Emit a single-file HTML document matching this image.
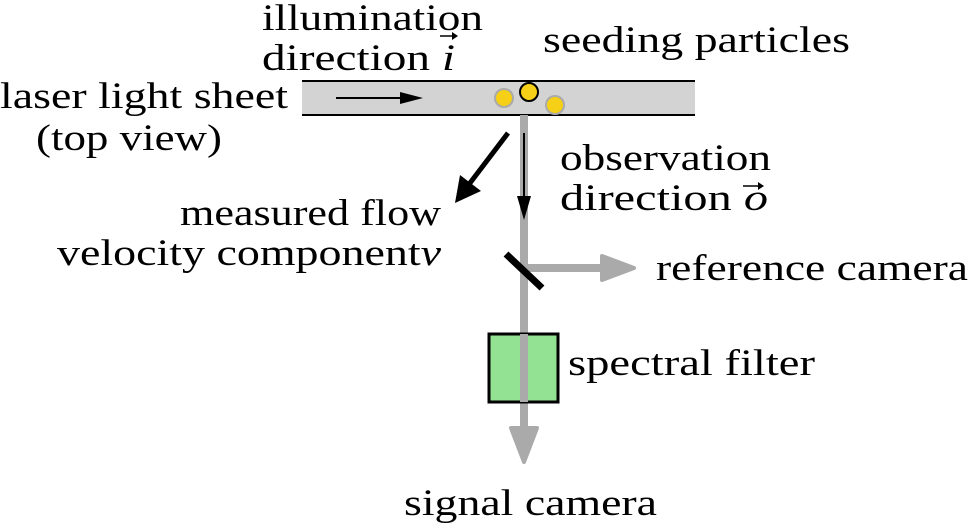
<!DOCTYPE html>
<html><head><style>body{margin:0;background:#fff}svg{display:block}text{font-family:"Liberation Serif",serif;font-size:37px;fill:#000}</style></head>
<body>
<svg width="969" height="528" viewBox="0 0 969 528" xmlns="http://www.w3.org/2000/svg">
<rect x="302" y="81" width="393" height="34" fill="#d3d3d3"/>
<line x1="302" y1="81" x2="695" y2="81" stroke="#000" stroke-width="2"/>
<line x1="302" y1="115" x2="695" y2="115" stroke="#000" stroke-width="2"/>
<line x1="336" y1="98" x2="402" y2="98" stroke="#000" stroke-width="2"/>
<polygon points="400,92 423,98 400,104" fill="#000"/>
<circle cx="504" cy="98" r="9" fill="#f5d016" stroke="#aaa" stroke-width="2"/>
<circle cx="529" cy="92" r="9" fill="#f5d016" stroke="#000" stroke-width="2"/>
<circle cx="555" cy="105" r="9" fill="#f5d016" stroke="#aaa" stroke-width="2"/>
<line x1="524" y1="115" x2="524" y2="430" stroke="#aaa" stroke-width="8"/>
<polygon points="511,428 537,428 524,462" fill="#aaa" stroke="#aaa" stroke-width="4" stroke-linejoin="round"/>
<line x1="524" y1="268" x2="605" y2="268" stroke="#aaa" stroke-width="8"/>
<polygon points="602,256 634,268 602,280" fill="#aaa" stroke="#aaa" stroke-width="4" stroke-linejoin="round"/>
<line x1="506" y1="254" x2="542" y2="288" stroke="#000" stroke-width="7"/>
<rect x="489" y="334" width="69" height="68" fill="#93e193" stroke="#000" stroke-width="3"/>
<line x1="524" y1="334" x2="524" y2="402" stroke="#aaa" stroke-width="8"/>
<line x1="524" y1="133" x2="524" y2="198" stroke="#000" stroke-width="2"/>
<polygon points="517,196 531,196 524,220" fill="#000"/>
<line x1="508" y1="133" x2="470" y2="183" stroke="#000" stroke-width="5"/>
<polygon points="460,175 481,191 455,203" fill="#000"/>
<text x="262" y="30" textLength="221" lengthAdjust="spacingAndGlyphs">illumination</text>
<text x="262" y="70" textLength="193" lengthAdjust="spacingAndGlyphs">direction <tspan font-style="italic">i</tspan></text>
<line x1="440" y1="36" x2="456" y2="36" stroke="#000" stroke-width="1.5"/>
<polygon points="452,32 458,36 452,40" fill="#000"/>
<text x="543" y="52" textLength="307" lengthAdjust="spacingAndGlyphs">seeding particles</text>
<text x="0" y="108" textLength="288" lengthAdjust="spacingAndGlyphs">laser light sheet</text>
<text x="36" y="150" textLength="186" lengthAdjust="spacingAndGlyphs">(top view)</text>
<text x="560" y="170" textLength="211" lengthAdjust="spacingAndGlyphs">observation</text>
<text x="560" y="210" textLength="208" lengthAdjust="spacingAndGlyphs">direction <tspan font-style="italic">o</tspan></text>
<line x1="743" y1="186" x2="762" y2="186" stroke="#000" stroke-width="1.5"/>
<polygon points="758,182 764,186 758,190" fill="#000"/>
<text x="180" y="225" textLength="261" lengthAdjust="spacingAndGlyphs">measured flow</text>
<text x="57" y="265" textLength="384" lengthAdjust="spacingAndGlyphs">velocity component<tspan font-style="italic">v</tspan></text>
<text x="656" y="280" textLength="312" lengthAdjust="spacingAndGlyphs">reference camera</text>
<text x="568" y="375" textLength="247" lengthAdjust="spacingAndGlyphs">spectral filter</text>
<text x="404" y="515" textLength="253" lengthAdjust="spacingAndGlyphs">signal camera</text>
</svg>
</body></html>
